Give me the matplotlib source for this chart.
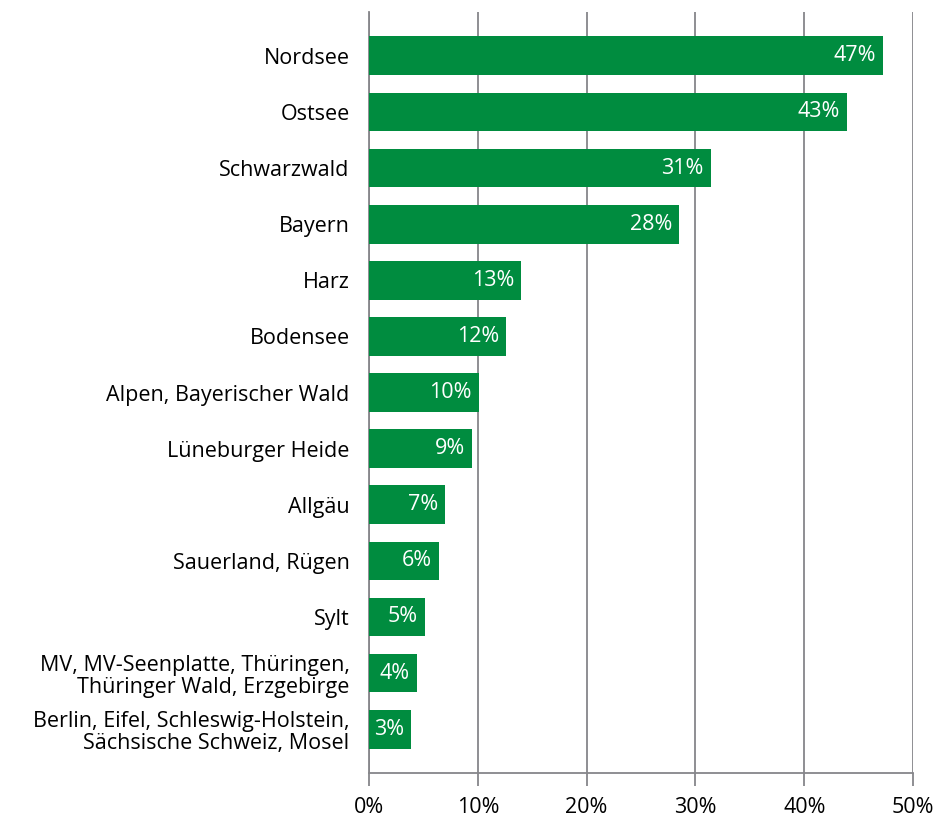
import numpy as np
from matplotlib import pyplot as plt

regions = ["Nordsee", "Ostsee", "Schwarzwald", "Bayern", "Harz", "Bodensee",
           "Alpen, Bayerischer Wald", "Lüneburger Heide", "Allgäu",
           "Sauerland, Rügen", "Sylt",
           "MV, MV-Seenplatte, Thüringen,\nThüringer Wald, Erzgebirge",
           "Berlin, Eifel, Schleswig-Holstein,\nSächsische Schweiz, Mosel"]
values = [47.2, 43.9, 31.4, 28.5, 14.0, 12.6, 10.1, 9.5, 7.0, 6.4, 5.1, 4.4, 3.9]
value_labels = ["47%", "43%", "31%", "28%", "13%", "12%", "10%", "9%", "7%",
                "6%", "5%", "4%", "3%"]
xticks = [0, 10, 20, 30, 40, 50]

plt.rcParams['font.family'] = ['Open Sans', 'DejaVu Sans']
green = "#008c3f"
grid = "#86868a"

fig = plt.figure(figsize=(9.45, 8.22), dpi=100)
ax = fig.add_axes([0.3905, 0.0596, 0.5757, 0.9258])

y = np.arange(len(regions))
ax.barh(y, values, height=0.69, color=green, zorder=3)
ax.set_ylim(len(regions) - 0.22, -0.78)
ax.set_xlim(0, 50)

# prozentwerte in den balken
for yi, v, lab in zip(y, values, value_labels):
    ax.annotate(lab, (v, yi), xytext=(-5, 0), textcoords="offset points",
                ha="right", va="center", color="white", fontsize=15.5, zorder=4)

ax.set_yticks(y)
ax.set_yticklabels(regions, fontsize=15.5, linespacing=1.1)
ax.tick_params(axis="y", length=0, pad=14)
ax.set_xticks(xticks)
ax.set_xticklabels([f"{t}%" for t in xticks], fontsize=15.5)
ax.tick_params(axis="x", length=9, width=1.3, color=grid, pad=8)

ax.grid(axis="x", color=grid, linewidth=1.3, zorder=0)
for s in ["top", "right"]:
    ax.spines[s].set_visible(False)
for s in ["left", "bottom"]:
    ax.spines[s].set_color(grid)
    ax.spines[s].set_linewidth(1.3)

fig.savefig("out.png", dpi=100)
